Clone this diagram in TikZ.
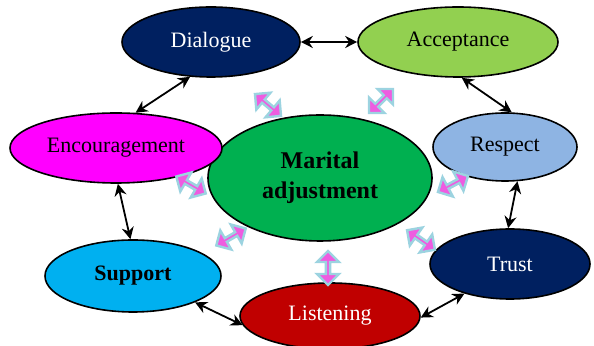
\documentclass[tikz,border=0pt]{standalone}
\usepackage{fontspec}
\setmainfont{Liberation Serif}
\usepackage{tikz}
\usepackage{xcolor}
\usetikzlibrary{shapes.arrows}
\usetikzlibrary{shapes.geometric}
\usetikzlibrary{arrows.meta}

\definecolor{navy}{HTML}{002060}
\definecolor{lime}{HTML}{92D050}
\definecolor{leaf}{HTML}{00B050}
\definecolor{fuchsia}{HTML}{FF00FF}
\definecolor{skyblue}{HTML}{00B0F0}
\definecolor{steel}{HTML}{8EB4E3}
\definecolor{darkred}{HTML}{C00000}
\definecolor{pushpink}{HTML}{EE5CE0}
\definecolor{iceblue}{HTML}{9CD3E0}

\begin{document}
\begin{tikzpicture}[x=0.5pt,y=-0.5pt,
    oval/.style={ellipse,draw=black,line width=0.8pt,inner sep=0pt,
      font=\fontsize{11}{13}\selectfont},
    link/.style={{Stealth[length=6pt,width=6pt]}-{Stealth[length=6pt,width=6pt]},line width=0.9pt},
    push/.style={double arrow,fill=pushpink,draw=iceblue,line width=1.2pt,
      minimum height=17pt,minimum width=11pt,double arrow head extend=2.5pt,inner sep=0pt}]
  \useasboundingbox (0,0) rectangle (594,346);

  \node (dia) [oval,fill=navy,text=white,minimum width=89pt,minimum height=35pt] at (211,42) {Dialogue};
  \node (acc) [oval,fill=lime,minimum width=100pt,minimum height=35pt] at (458,42) {Acceptance};
  \node (mar) [oval,fill=leaf,minimum width=112pt,minimum height=63pt,align=center,
    font=\fontsize{12}{15}\selectfont\bfseries] at (320,178) {Marital\\adjustment};
  \node (enc) [oval,fill=fuchsia,minimum width=106pt,minimum height=35pt] at (116,148) {Encouragement};
  \node (res) [oval,fill=steel,minimum width=72pt,minimum height=34pt] at (505,147) {Respect};
  \node (sup) [oval,fill=skyblue,minimum width=88pt,minimum height=36pt,
    font=\fontsize{11}{13}\selectfont\bfseries] at (133,276) {Support};
  \node (lis) [oval,fill=darkred,text=white,minimum width=90pt,minimum height=33pt] at (330,316) {Listening};
  \node (tru) [oval,fill=navy,text=white,minimum width=80pt,minimum height=35pt] at (510,264) {Trust};

  \draw[link] (dia.east) -- (acc.west);
  \draw[link] (dia.-121) -- (enc.61);
  \draw[link] (acc.-84) -- (res.79);
  \draw[link] (enc.-87) -- (sup.94);
  \draw[link] (res.-70) -- (tru.93);
  \draw[link] (sup.-23) -- (lis.186);
  \draw[link] (lis.-1) -- (tru.213);

  \node (pdia) [push,rotate=-40] at (268,105) {};
  \node (pacc) [push,rotate=45] at (381,101) {};
  \node (penc) [push,rotate=-30] at (191,185) {};
  \node (pres) [push,rotate=28] at (453,184) {};
  \node (psup) [push,rotate=30] at (231,237) {};
  \node (ptru) [push,rotate=-35] at (421,240) {};
  \node (plis) [push,rotate=90] at (328,268) {};
\end{tikzpicture}
\end{document}
